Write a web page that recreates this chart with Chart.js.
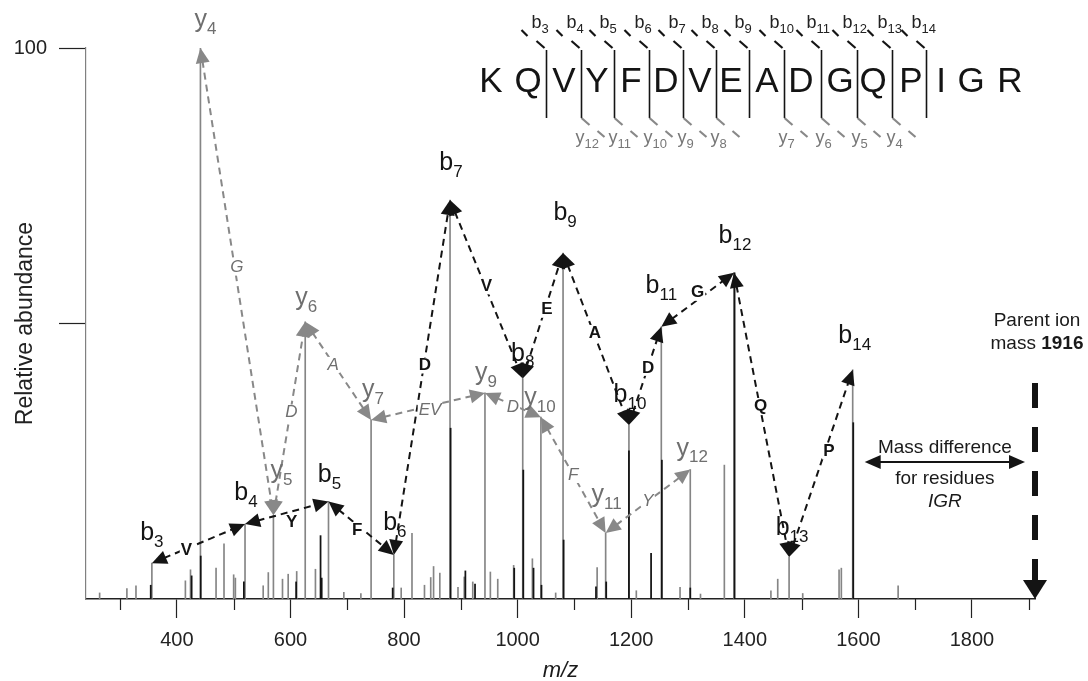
<!DOCTYPE html>
<html>
<head>
<meta charset="utf-8">
<script src="https://cdn.jsdelivr.net/npm/chart.js@4.4.0/dist/chart.umd.min.js"></script>
<style>
  html, body { margin: 0; padding: 0; background: #fff; }
</style>
</head>
<body>
<canvas id="spectrum" width="1088" height="681"></canvas>
<script>
// MS/MS 스펙트럼 - KQVYFDVEADGQPIGR

// 배경 피크 (회색)
const peakMz  = [264, 312, 328, 415, 424, 469, 483, 500, 503, 552, 561, 586, 596, 611, 644, 694, 724, 795, 814, 836, 847, 852, 863, 895, 906, 921, 952, 965, 993, 1026, 1067, 1140, 1209, 1286, 1322, 1364, 1446, 1458, 1502, 1566, 1570, 1670];
const peakInt = [1.1, 1.9, 2.4, 3.3, 5.3, 5.6, 10, 4.4, 3.8, 2.4, 4.8, 3.6, 4.5, 5, 5.4, 1.2, 1, 2, 11.9, 2.5, 3.9, 5.9, 4.7, 2.1, 4, 3.1, 4.9, 3.6, 6.1, 7.3, 1.1, 5.7, 1.5, 2.1, 0.9, 24.3, 1.5, 3.6, 1, 5.3, 5.6, 2.4];

// 진한 피크 (검정)
const darkMz  = [354, 426, 442, 518, 610, 653, 655, 780, 882, 908, 925, 994, 1010, 1028, 1042, 1081, 1138, 1156, 1196, 1235, 1254, 1304, 1382, 1591];
const darkInt = [2.5, 4.2, 7.8, 3.1, 3.1, 11.5, 3.8, 2, 31, 5.1, 2.7, 5.6, 23.4, 5.6, 2.5, 10.7, 2.2, 3.1, 26.9, 8.3, 25.2, 2, 59.2, 32];

// b 이온
const bIonNum = [3, 4, 5, 6, 7, 8, 9, 10, 11, 12, 13, 14];
const bIonMz  = [356, 520, 667, 782, 881, 1009, 1080, 1196, 1253, 1381, 1478, 1590];
const bIonInt = [6.5, 13.6, 17.7, 8, 72.4, 40, 62.8, 31.6, 49.4, 59.2, 7.6, 41.6];
const bResidues = ['V', 'Y', 'F', 'D', 'V', 'E', 'A', 'D', 'G', 'Q', 'P'];

// y 이온
const yIonNum = [4, 5, 6, 7, 9, 10, 11, 12];
const yIonMz  = [441.5, 570, 626, 742, 942.5, 1041, 1155, 1304];
const yIonInt = [100, 15.2, 50.3, 32.5, 37.4, 33, 12, 23.5];
const yResidues = ['G', 'D', 'A', 'EV', 'D', 'F', 'Y'];

// 서열 표시
const sequence = ['K', 'Q', 'V', 'Y', 'F', 'D', 'V', 'E', 'A', 'D', 'G', 'Q', 'P', 'I', 'G', 'R'];
const seqB = [3, 4, 5, 6, 7, 8, 9, 10, 11, 12, 13, 14];
const seqY = [null, 12, 11, 10, 9, 8, null, 7, 6, 5, 4, null];

const parentMz = 1916;
const xTickLabels = [400, 600, 800, 1000, 1200, 1400, 1600, 1800];
const xMinorTicks = [300, 500, 700, 900, 1100, 1300, 1500, 1700, 1900];
const yTicks = [50, 100];

const FONT = '"Liberation Sans", Arial, Helvetica, sans-serif';
const GRAY = '#858585';
const INK = '#141414';

function toPoints(mz, ints) {
    return mz.map((m, i) => ({ x: m, y: ints[i] }));
}

function arrowHead(ctx, tx, ty, fx, fy, len, half, color) {
    const a = Math.atan2(ty - fy, tx - fx);
    const c = Math.cos(a), s = Math.sin(a);
    ctx.fillStyle = color;
    ctx.beginPath();
    ctx.moveTo(tx, ty);
    ctx.lineTo(tx - len * c + half * s, ty - len * s - half * c);
    ctx.lineTo(tx - len * c - half * s, ty - len * s + half * c);
    ctx.closePath();
    ctx.fill();
}

function dashedArrow(ctx, x1, y1, x2, y2, color) {
    const d = Math.hypot(x2 - x1, y2 - y1);
    const ux = (x2 - x1) / d, uy = (y2 - y1) / d;
    const L = 13;
    ctx.save();
    ctx.strokeStyle = color;
    ctx.lineWidth = 2;
    ctx.setLineDash([7, 5]);
    ctx.beginPath();
    ctx.moveTo(x1 + ux * L, y1 + uy * L);
    ctx.lineTo(x2 - ux * L, y2 - uy * L);
    ctx.stroke();
    ctx.restore();
    arrowHead(ctx, x1, y1, x2, y2, 15, 7, color);
    arrowHead(ctx, x2, y2, x1, y1, 15, 7, color);
}

function subLabel(ctx, letter, num, cx, base, size, subSize, color) {
    ctx.font = `${size}px ${FONT}`;
    const w1 = ctx.measureText(letter).width;
    ctx.font = `${subSize}px ${FONT}`;
    const w2 = ctx.measureText(String(num)).width;
    const left = cx - (w1 + w2) / 2;
    ctx.fillStyle = color;
    ctx.textAlign = 'left';
    ctx.textBaseline = 'alphabetic';
    ctx.font = `${size}px ${FONT}`;
    ctx.fillText(letter, left, base);
    ctx.font = `${subSize}px ${FONT}`;
    ctx.fillText(String(num), left + w1, base + subSize * 0.4);
}

function residueLabel(ctx, text, x, y, font, color) {
    ctx.font = font;
    const w = ctx.measureText(text).width;
    ctx.fillStyle = '#fff';
    ctx.fillRect(x - w / 2 - 1, y - 8, w + 2, 16);
    ctx.fillStyle = color;
    ctx.textAlign = 'center';
    ctx.textBaseline = 'middle';
    ctx.fillText(text, x, y);
}

function line(ctx, x1, y1, x2, y2, color, width) {
    ctx.strokeStyle = color;
    ctx.lineWidth = width;
    ctx.beginPath();
    ctx.moveTo(x1, y1);
    ctx.lineTo(x2, y2);
    ctx.stroke();
}

// 라벨 위치 보정 (px)
const bLabelShift = [[0, -23], [1, -24], [1, -19], [1, -25], [1, -30], [0, -18], [2, -33], [1, -23], [0, -34], [1, -30], [3, -22], [2, -27]];
const yLabelShift = [[5, -21], [8, -37], [1, -17], [2, -23], [1, -13], [-1, -12], [1, -31], [2, -14]];
const bResShift = [[-12, 7], [5, 10], [-4, 2], [3, -12], [0, -3], [4, -6], [-1, -6], [3, -8], [0, -7], [-1, -9], [8, -12]];
const yResShift = [[0, -14], [2, -6], [-5, -6], [2, 4], [0, 2], [0, 0], [0, 0]];

const annotationPlugin = {
    id: 'spectrumAnnotations',
    afterDraw(chart) {
        const ctx = chart.ctx;
        const xs = chart.scales.x, ys = chart.scales.y;
        const area = chart.chartArea;
        ctx.save();

        // 보조 눈금
        xMinorTicks.forEach(v => {
            const px = Math.round(xs.getPixelForValue(v)) + 0.5;
            line(ctx, px, area.bottom, px, area.bottom + 11, '#222', 1.2);
        });

        // 이온 화살표
        const bPts = bIonMz.map((m, i) => [xs.getPixelForValue(m), ys.getPixelForValue(bIonInt[i])]);
        const yPts = yIonMz.map((m, i) => [xs.getPixelForValue(m), ys.getPixelForValue(yIonInt[i])]);

        for (let i = 0; i < yPts.length - 1; i++) {
            dashedArrow(ctx, yPts[i][0], yPts[i][1], yPts[i + 1][0], yPts[i + 1][1], '#888');
        }
        for (let i = 0; i < bPts.length - 1; i++) {
            dashedArrow(ctx, bPts[i][0], bPts[i][1], bPts[i + 1][0], bPts[i + 1][1], INK);
        }

        yResidues.forEach((r, i) => {
            const mx = (yPts[i][0] + yPts[i + 1][0]) / 2 + yResShift[i][0];
            const my = (yPts[i][1] + yPts[i + 1][1]) / 2 + yResShift[i][1];
            residueLabel(ctx, r, mx, my, `italic 17px ${FONT}`, '#6f6f6f');
        });
        bResidues.forEach((r, i) => {
            const mx = (bPts[i][0] + bPts[i + 1][0]) / 2 + bResShift[i][0];
            const my = (bPts[i][1] + bPts[i + 1][1]) / 2 + bResShift[i][1];
            residueLabel(ctx, r, mx, my, `bold 17px ${FONT}`, INK);
        });

        // 이온 라벨
        bPts.forEach((p, i) => subLabel(ctx, 'b', bIonNum[i], p[0] + bLabelShift[i][0], p[1] + bLabelShift[i][1], 25, 17, INK));
        yPts.forEach((p, i) => subLabel(ctx, 'y', yIonNum[i], p[0] + yLabelShift[i][0], p[1] + yLabelShift[i][1], 25, 17, '#6f6f6f'));

        // 서열 다이어그램
        const seqX = [491, 528, 564, 597, 631, 666, 700, 731, 767, 801, 840, 873, 911, 941, 971, 1010];
        ctx.font = `35px ${FONT}`;
        ctx.fillStyle = INK;
        ctx.textAlign = 'center';
        ctx.textBaseline = 'alphabetic';
        sequence.forEach((ch, i) => ctx.fillText(ch, seqX[i], 92));
        seqB.forEach((n, k) => {
            const xd = Math.round((seqX[k + 1] + seqX[k + 2]) / 2) + 0.5;
            line(ctx, xd, 50, xd, 118, INK, 1.6);
            line(ctx, xd - 25, 30, xd - 19, 36, INK, 2.2);
            line(ctx, xd - 10, 41, xd - 2, 48, INK, 2.2);
            ctx.font = `18px ${FONT}`;
            const wb = ctx.measureText('b').width;
            ctx.font = `13px ${FONT}`;
            const wn = ctx.measureText(String(n)).width;
            subLabel(ctx, 'b', n, xd - 15 + (wb + wn) / 2, 28, 18, 13, '#222');
            const yn = seqY[k];
            if (yn !== null) {
                line(ctx, xd, 118, xd + 8, 125, '#888', 2.2);
                line(ctx, xd + 16, 131, xd + 23, 137, '#888', 2.2);
                ctx.font = `18px ${FONT}`;
                const wy = ctx.measureText('y').width;
                ctx.font = `13px ${FONT}`;
                const wyn = ctx.measureText(String(yn)).width;
                subLabel(ctx, 'y', yn, xd - 6 + (wy + wyn) / 2, 143, 18, 13, '#777');
            }
        });

        // 모이온 화살표
        const px = Math.min(xs.getPixelForValue(parentMz), area.right);
        ctx.save();
        ctx.strokeStyle = INK;
        ctx.lineWidth = 6;
        ctx.setLineDash([25, 19]);
        ctx.beginPath();
        ctx.moveTo(px, 383);
        ctx.lineTo(px, 583);
        ctx.stroke();
        ctx.restore();
        arrowHead(ctx, px, area.bottom, px, 560, 19, 12, INK);

        ctx.fillStyle = '#1a1a1a';
        ctx.textAlign = 'center';
        ctx.textBaseline = 'alphabetic';
        ctx.font = `19px ${FONT}`;
        ctx.fillText('Parent ion', px + 2, 326);
        const wMass = ctx.measureText('mass ').width;
        ctx.font = `bold 19px ${FONT}`;
        const wNum = ctx.measureText(String(parentMz)).width;
        const left = px + 2 - (wMass + wNum) / 2;
        ctx.textAlign = 'left';
        ctx.font = `19px ${FONT}`;
        ctx.fillText('mass ', left, 349);
        ctx.font = `bold 19px ${FONT}`;
        ctx.fillText(String(parentMz), left + wMass, 349);

        // IGR 질량 차이
        const x1 = xs.getPixelForValue(bIonMz[bIonMz.length - 1]) + 12;
        const x2 = px - 10;
        line(ctx, x1 + 10, 462, x2 - 10, 462, INK, 2);
        arrowHead(ctx, x1, 462, x2, 462, 16, 7, INK);
        arrowHead(ctx, x2, 462, x1, 462, 16, 7, INK);
        const cx = (x1 + x2) / 2;
        ctx.textAlign = 'center';
        ctx.fillStyle = '#1a1a1a';
        ctx.font = `19px ${FONT}`;
        ctx.fillText('Mass difference', cx, 453);
        ctx.fillText('for residues', cx, 484);
        ctx.font = `italic 19px ${FONT}`;
        ctx.fillText('IGR', cx, 507);

        // x축 제목
        ctx.font = `italic 22px ${FONT}`;
        ctx.fillText('m/z', (area.left + area.right) / 2, 677);

        ctx.restore();
    }
};

const allGray = toPoints(peakMz.concat(bIonMz, yIonMz), peakInt.concat(bIonInt, yIonInt));

new Chart(document.getElementById('spectrum'), {
    type: 'bar',
    data: {
        datasets: [{
            label: 'dark',
            data: toPoints(darkMz, darkInt),
            backgroundColor: INK,
            barThickness: 1.1,
            grouped: false
        }, {
            label: 'peaks',
            data: allGray,
            backgroundColor: GRAY,
            barThickness: 1,
            grouped: false
        }]
    },
    options: {
        responsive: false,
        animation: false,
        devicePixelRatio: 1,
        layout: { padding: { top: 48, right: 53, left: 0, bottom: 0 } },
        plugins: { legend: { display: false }, tooltip: { enabled: false } },
        scales: {
            x: {
                type: 'linear',
                min: 240,
                max: 1911,
                offset: false,
                afterBuildTicks: s => { s.ticks = xTickLabels.map(v => ({ value: v })); },
                afterFit: s => { s.height = 82; },
                ticks: { callback: v => String(v), font: { family: FONT, size: 20 }, color: '#222', padding: 10, maxRotation: 0, autoSkip: false },
                grid: { offset: false, drawOnChartArea: false, tickLength: 19, tickColor: '#222', tickWidth: 1.2 },
                border: { color: '#222', width: 1.5 }
            },
            y: {
                min: 0,
                max: 100,
                afterBuildTicks: s => { s.ticks = yTicks.map(v => ({ value: v })); },
                afterFit: s => { s.width = 86; },
                ticks: { callback: v => (v === 100 ? '100' : ''), font: { family: FONT, size: 20 }, color: '#222', padding: 12 },
                grid: { offset: false, drawOnChartArea: false, tickLength: 27, tickColor: '#222', tickWidth: 1.2 },
                border: { color: '#808080', width: 1.2 },
                title: { display: true, text: 'Relative abundance', font: { family: FONT, size: 23 }, color: '#222', padding: { top: 12 } }
            }
        }
    },
    plugins: [annotationPlugin]
});
</script>
</body>
</html>
